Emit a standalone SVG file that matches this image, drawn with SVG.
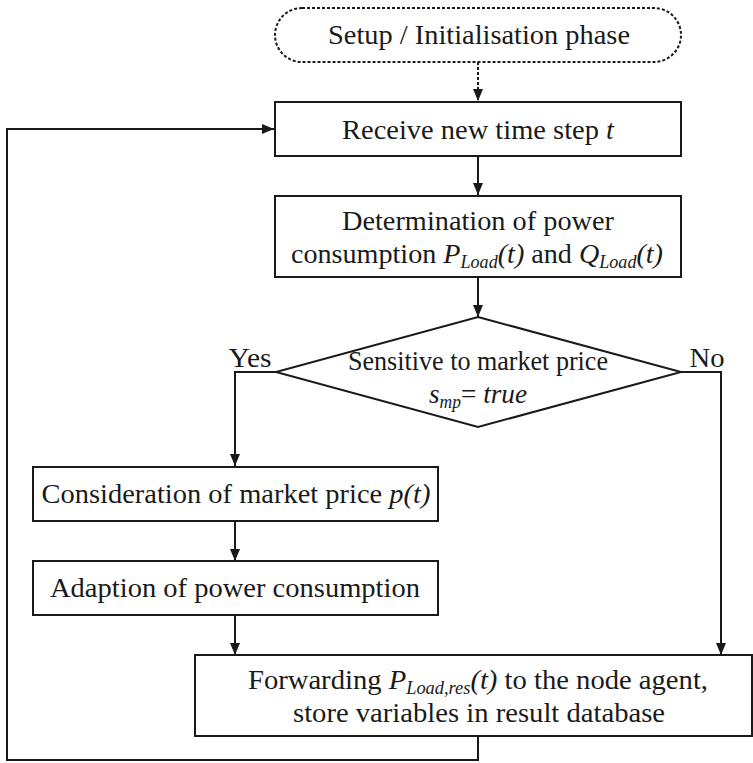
<svg xmlns="http://www.w3.org/2000/svg" width="753" height="763" viewBox="0 0 753 763">
<style>
.box{fill:#fff;stroke:#1a1a1a;stroke-width:2}
.t{font-family:"Liberation Serif","Times New Roman",serif;font-size:28px;fill:#1a1a1a;text-anchor:middle}
.i{font-style:italic}
.s{font-size:18px;font-style:italic}
.c{fill:none;stroke:#1a1a1a;stroke-width:2}
</style>
<defs>
<marker id="a" viewBox="0 0 12 10" refX="12" refY="5" markerWidth="12" markerHeight="10" markerUnits="userSpaceOnUse" orient="auto"><path d="M0,0 L12,5 L0,10 z" fill="#1a1a1a"/></marker>
</defs>
<g id="connectors">
<path class="c" d="M478,62 V101" stroke-dasharray="3,2" marker-end="url(#a)"/>
<path class="c" d="M478,156 V195" marker-end="url(#a)"/>
<path class="c" d="M478,277 V317" marker-end="url(#a)"/>
<path class="c" d="M276,372 H235 V466" marker-end="url(#a)"/>
<path class="c" d="M235,521 V561" marker-end="url(#a)"/>
<path class="c" d="M235,615 V655" marker-end="url(#a)"/>
<path class="c" d="M681,372 H721 V655" marker-end="url(#a)"/>
<path class="c" d="M478,736 V760 H7 V129 H274" marker-end="url(#a)"/>
</g>
<g id="setup">
<rect x="275" y="8" width="406" height="54" rx="27" ry="27" class="box" stroke-dasharray="3,2"/>
<text class="t" x="479" y="44" textLength="302" lengthAdjust="spacingAndGlyphs">Setup / Initialisation phase</text>
</g>
<g id="receive">
<rect x="275" y="102" width="406" height="54" class="box"/>
<text class="t" x="478" y="139" textLength="272" lengthAdjust="spacingAndGlyphs">Receive new time step <tspan class="i">t</tspan></text>
</g>
<g id="determination">
<rect x="275" y="196" width="406" height="81" class="box"/>
<text class="t" x="478" y="230" textLength="272" lengthAdjust="spacingAndGlyphs">Determination of power</text>
<text class="t" x="477" y="263" textLength="372" lengthAdjust="spacingAndGlyphs">consumption <tspan class="i">P</tspan><tspan class="s" dy="5">Load</tspan><tspan class="i" dy="-5">(t)</tspan> and <tspan class="i">Q</tspan><tspan class="s" dy="5">Load</tspan><tspan class="i" dy="-5">(t)</tspan></text>
</g>
<g id="decision">
<polygon points="478,317 681,372 478,427 276,372" class="box"/>
<text class="t" x="478" y="370" textLength="260" lengthAdjust="spacingAndGlyphs">Sensitive to market price</text>
<text class="t" x="478" y="403" textLength="98" lengthAdjust="spacingAndGlyphs"><tspan class="i">s</tspan><tspan class="s" dy="5">mp</tspan><tspan dy="-5">= </tspan><tspan class="i">true</tspan></text>
<text class="t" x="250" y="367" textLength="43" lengthAdjust="spacingAndGlyphs">Yes</text>
<text class="t" x="707" y="367" textLength="35" lengthAdjust="spacingAndGlyphs">No</text>
</g>
<g id="consideration">
<rect x="33" y="467" width="405" height="54" class="box"/>
<text class="t" x="236" y="503" textLength="389" lengthAdjust="spacingAndGlyphs">Consideration of market price <tspan class="i">p(t)</tspan></text>
</g>
<g id="adaption">
<rect x="33" y="561" width="405" height="54" class="box"/>
<text class="t" x="235" y="597" textLength="370" lengthAdjust="spacingAndGlyphs">Adaption of power consumption</text>
</g>
<g id="forwarding">
<rect x="195" y="655" width="557" height="81" class="box"/>
<text class="t" x="478" y="689" textLength="460" lengthAdjust="spacingAndGlyphs">Forwarding <tspan class="i">P</tspan><tspan class="s" dy="5">Load,res</tspan><tspan class="i" dy="-5">(t)</tspan> to the node agent,</text>
<text class="t" x="479" y="722" textLength="372" lengthAdjust="spacingAndGlyphs">store variables in result database</text>
</g>
</svg>
